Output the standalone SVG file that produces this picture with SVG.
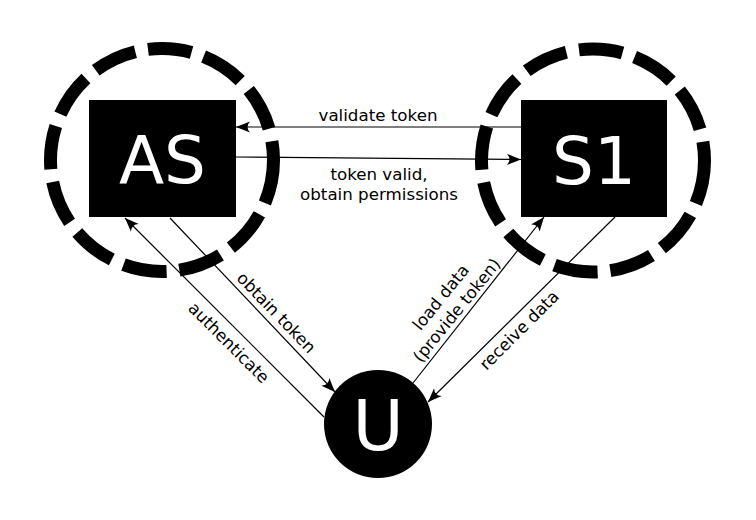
<svg xmlns="http://www.w3.org/2000/svg" width="756" height="520" viewBox="0 0 756 520">
  <style>
    .ring { fill: none; stroke: #000; stroke-width: 13; stroke-dasharray: 44 12.75; }
    .box { fill: #000; }
    .big { font-family: "DejaVu Sans", "Bitstream Vera Sans", sans-serif; fill: #fff; text-anchor: middle; }
    .conn { fill: none; stroke: #000; stroke-width: 1.2; marker-end: url(#ah); }
    .lbl { font-family: "DejaVu Sans", "Bitstream Vera Sans", sans-serif; font-size: 16.7px; fill: #000; text-anchor: middle; }
  </style>
  <defs>
    <marker id="ah" markerUnits="userSpaceOnUse" orient="auto" overflow="visible" refX="0" refY="0" markerWidth="1" markerHeight="1">
      <path d="M0,0 L-14,-5.5 Q-9,0 -14,5.5 Z" fill="#000"/>
    </marker>
  </defs>
  <rect width="756" height="520" fill="#fff"/>

  <g id="AS">
    <circle class="ring" cx="162" cy="160" r="111.5"/>
    <rect class="box" x="89" y="100" width="147" height="117"/>
    <text class="big" x="162.5" y="183" font-size="66">AS</text>
  </g>

  <g id="S1">
    <circle class="ring" cx="593" cy="160.5" r="111.5"/>
    <rect class="box" x="521" y="100" width="146" height="117"/>
    <text class="big" x="594" y="184" font-size="66">S1</text>
  </g>

  <g id="U">
    <circle cx="378" cy="424" r="54" fill="#000"/>
    <text class="big" x="378" y="449.5" font-size="70">U</text>
  </g>

  <g id="connectors">
    <line class="conn" x1="521" y1="127" x2="236" y2="127"/>
    <line class="conn" x1="236" y1="157" x2="521" y2="159.5"/>
    <line class="conn" x1="324" y1="417" x2="125" y2="218"/>
    <line class="conn" x1="170" y1="218" x2="335" y2="392"/>
    <line class="conn" x1="413" y1="383" x2="544" y2="217"/>
    <line class="conn" x1="615" y1="217" x2="428" y2="402"/>

    <text class="lbl" x="378" y="121">validate token</text>
    <text class="lbl" x="379" y="180">token valid,</text>
    <text class="lbl" x="379" y="199.5">obtain permissions</text>
    <text class="lbl" transform="translate(276.5,312.5) rotate(46)" y="6">obtain token</text>
    <text class="lbl" transform="translate(229,342.5) rotate(45)" y="6">authenticate</text>
    <g transform="translate(448.75,303.75) rotate(-51)">
      <text class="lbl" x="0" y="-4.5">load data</text>
      <text class="lbl" x="0" y="16">(provide token)</text>
    </g>
    <text class="lbl" transform="translate(519,330) rotate(-45)" y="6">receive data</text>
  </g>
</svg>
